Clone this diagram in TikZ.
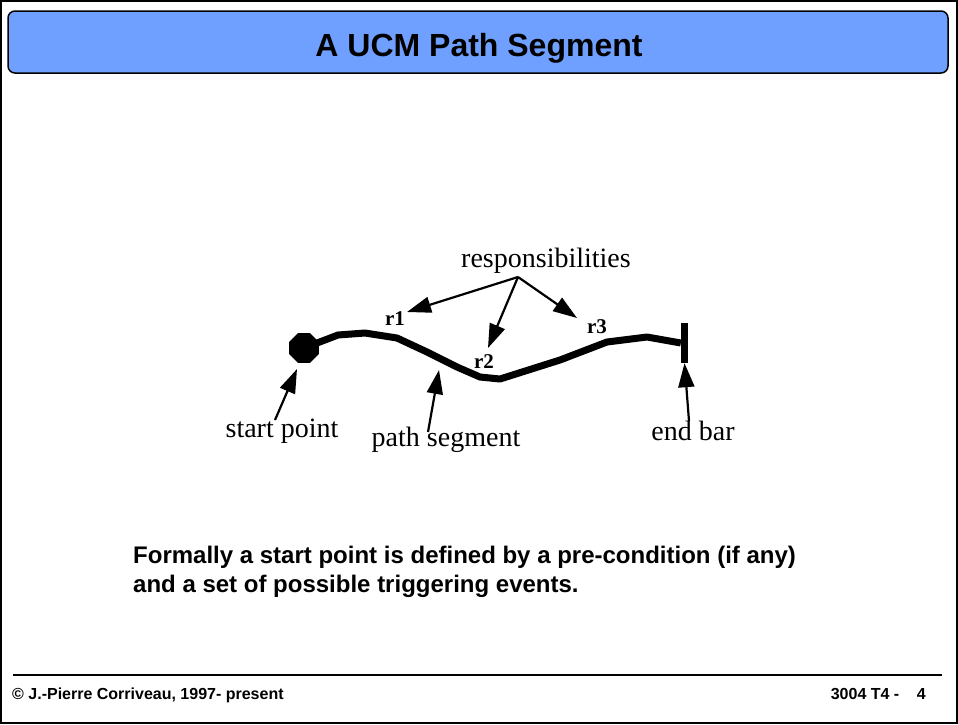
\documentclass[tikz,border=0pt]{standalone}
\usepackage{fontspec}
\setmainfont{Liberation Serif}
\setsansfont{Liberation Sans}
\usetikzlibrary{arrows.meta,positioning,shapes.geometric}
\definecolor{titleblue}{RGB}{112,160,255}
\tikzset{
    %Define standard arrow tip
    >={Triangle[length=24pt,width=16pt]},
    %Define style for boxes
    titlebox/.style={
           rectangle,
           rounded corners=7pt,
           draw=black, line width=1.5pt,
           fill=titleblue,
           minimum width=940pt,
           minimum height=62pt,
           },
    titletext/.style={
           inner sep=0pt,
           anchor=base,
           font=\sffamily\bfseries\fontsize{32}{36}\selectfont,
           },
    bodytext/.style={
           inner sep=0pt,
           anchor=base west,
           font=\sffamily\bfseries\fontsize{24}{29}\selectfont,
           },
    foottext/.style={
           inner sep=0pt,
           font=\sffamily\bfseries\fontsize{16}{18}\selectfont,
           },
    word/.style={
           inner sep=0pt,
           anchor=base,
           font=\fontsize{28}{30}\selectfont,
           },
    rtag/.style={
           inner sep=0pt,
           anchor=base,
           font=\bfseries\fontsize{21}{22}\selectfont,
           },
    startpt/.style={
           regular polygon,
           regular polygon sides=8,
           fill=black,
           inner sep=0pt,
           minimum size=32pt,
           },
    endbar/.style={
           rectangle,
           fill=black,
           inner sep=0pt,
           minimum width=7pt,
           minimum height=40pt,
           },
    % Define arrow style
    pointer/.style={
           ->,
           line width=2.2pt,},
    ucmpath/.style={
           line width=7pt,
           line join=round,}
}
\begin{document}
\begin{tikzpicture}[x=1pt,y=-1pt]
\useasboundingbox (0,0) rectangle (958,724);
\draw[line width=2pt] (1,1) rectangle (957,723);
\node[titlebox] (titlebar) at (478,42) {};
\node[titletext] (title) at (479,56) {A UCM Path Segment};
\node[word] (resp) at (546,267) {responsibilities};
\node[rtag] (r1) at (395,325) {r1};
\node[rtag] (r2) at (484,368) {r2};
\node[rtag] (r3) at (597,333) {r3};
\node[startpt] (start) at (304,348) {};
\node[endbar] (bar) at (684.5,343) {};
\node[word] (sp) at (282,437) {start point};
\node[word] (ps) at (446,446) {path segment};
\node[word] (eb) at (693,440) {end bar};
\coordinate (src) at (518,277);
\coordinate (tip1) at (407,312);
\coordinate (tip2) at (488,348);
\coordinate (tip3) at (577,318);
\coordinate (sptail) at (275,420);
\coordinate (sptip) at (297,369);
\coordinate (pstail) at (428,432);
\coordinate (pstip) at (439,370);
\coordinate (ebtail) at (689,421);
\draw[ucmpath] (start.center) -- (338,335) -- (365,333) -- (397,338) -- (427,352)
    -- (457,367) -- (480,377) -- (500,379) -- (560,360) -- (607,342)
    -- (647,337) -- (bar.west);
\path[pointer]
	(src) edge (tip1) edge (tip2) edge (tip3)
	(sptail) edge (sptip)
	(pstail) edge (pstip)
	(ebtail) edge (bar.south);
\node[bodytext] (line1) at (133,563) {Formally a start point is defined by a pre-condition (if any)};
\node[bodytext] (line2) at (133,592) {and a set of possible triggering events.};
\draw[line width=1.2pt] (13,675) -- (942,675);
\node[foottext, anchor=base west] (copy) at (12,699) {\textcopyright{} J.-Pierre Corriveau, 1997- present};
\node[foottext, anchor=base east] (page) at (926,699) {3004 T4 -\hspace{1.1em}4};
\end{tikzpicture}
\end{document}
